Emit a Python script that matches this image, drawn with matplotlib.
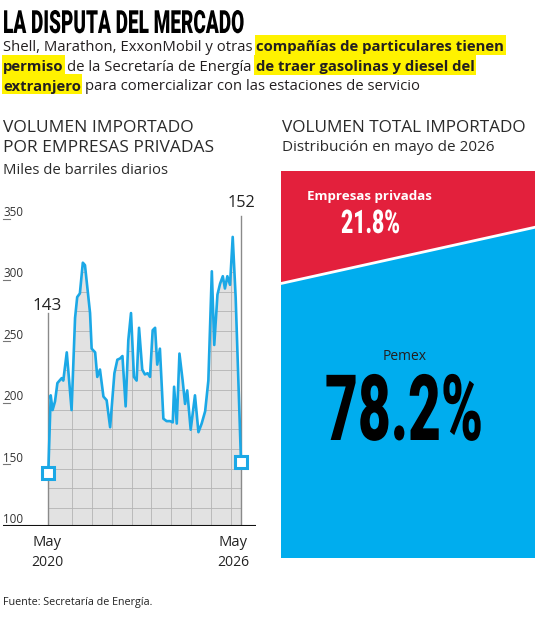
import matplotlib
matplotlib.use("Agg")
import matplotlib.pyplot as plt
import matplotlib.patheffects as pe
from matplotlib.transforms import Affine2D
from matplotlib.patches import Rectangle, Polygon

# ---------------- data ----------------
title = "LA DISPUTA DEL MERCADO"
subtitle_lines = [
    [("Shell, Marathon, ExxonMobil y otras", False), ("compañías de particulares tienen", True)],
    [("permiso", True), ("de la Secretaría de Energía", False), ("de traer gasolinas y diesel del", True)],
    [("extranjero", True), ("para comercializar con las estaciones de servicio", False)],
]
left_title = ["VOLUMEN IMPORTADO", "POR EMPRESAS PRIVADAS"]
left_unit = "Miles de barriles diarios"
right_title = "VOLUMEN TOTAL IMPORTADO"
right_sub = "Distribución en mayo de 2026"
source = "Fuente: Secretaría de Energía."

# months elapsed since May 2020 and imported volume (thousand barrels per day)
months = [0, 0.9, 1.6, 2.5, 3.4, 5.0, 5.6, 6.9, 8.7, 10.0, 10.8, 11.8, 12.9, 13.7,
          15.6, 16.2, 17.5, 18.3, 19.3, 20.6, 21.8, 23.1, 24.7, 25.8, 26.8, 27.7,
          28.9, 29.9, 30.9, 32.0, 33.0, 33.9, 35.1, 36.1, 37.1, 38.0, 39.0, 39.9,
          40.7, 41.7, 43.0, 44.2, 45.5, 46.5, 47.0, 48.0, 49.0, 50.2, 51.1, 51.9,
          53.2, 54.8, 56.1, 57.3, 58.6, 59.8, 61.1, 62.0, 63.2, 64.2, 65.2, 66.0,
          66.9, 67.9, 68.9, 70.0, 72.0]
volume = [143, 206, 194, 201, 216, 220, 218, 241, 194, 269, 286, 289, 314, 312,
          273, 244, 241, 221, 227, 205, 202, 180, 224, 235, 236, 238,
          197, 251, 273, 221, 218, 261, 227, 223, 224, 221, 259, 261,
          231, 244, 187, 185, 185, 184, 213, 183, 240, 218, 199, 210,
          178, 206, 176, 183, 193, 218, 307, 247, 288, 297, 303, 293,
          303, 296, 335, 286, 152]
y_ticks = [100, 150, 200, 250, 300, 350]
x_tick_months = [0, 72]
x_tick_labels = [("May", "2020"), ("May", "2026")]
start_label = "143"
end_label = "152"
share_labels = ["Empresas privadas", "Pemex"]
share_values = [21.8, 78.2]

# ---------------- setup ----------------
W, H = 538, 620
fig = plt.figure(figsize=(W / 100, H / 100), dpi=100)
fig.patch.set_facecolor("white")
bg = fig.add_axes([0, 0, 1, 1])
bg.set_xlim(0, W)
bg.set_ylim(H, 0)
bg.axis("off")
bg.set_zorder(10)
renderer = fig.canvas.get_renderer()

SANS = ["Open Sans", "DejaVu Sans"]
HEAVY = ["Roboto", "DejaVu Sans"]
INK = "#231f20"
BLUE = "#1ba8e6"
RED = "#e3203c"
PANEL_BLUE = "#00adee"
YELLOW = "#fff200"


class Squeeze(pe.AbstractPathEffect):
    """Compress glyphs horizontally about x0 (display px)."""
    def __init__(self, sx, x0):
        super().__init__((0, 0))
        self.sx = sx
        self.x0 = x0

    def draw_path(self, renderer, gc, tpath, affine, rgbFace=None):
        t = affine + Affine2D().translate(-self.x0, 0).scale(self.sx, 1).translate(self.x0, 0)
        renderer.draw_path(gc, tpath, t, rgbFace)


def width_of(t):
    return t.get_window_extent(renderer).width


def squeezed(x, y, s, size, target_w, ha="center", **kw):
    t = bg.text(x, y, s, fontsize=size, ha=ha, va="baseline", **kw)
    w = width_of(t)
    x0 = bg.transData.transform((x, y))[0]
    t.set_path_effects([Squeeze(target_w / w, x0)])
    return t


def fitted(x, y, s, target_w, ha="left", **kw):
    kw.setdefault("family", SANS)
    kw.setdefault("color", INK)
    t = bg.text(x, y, s, fontsize=10, ha=ha, va="baseline", **kw)
    w = width_of(t)
    t.set_fontsize(10 * target_w / w)
    return t


def measure(s, size, weight):
    t = bg.text(0, 0, s, fontsize=size, fontweight=weight, family=SANS)
    w = width_of(t)
    t.remove()
    return w


# ---------------- title & subtitle ----------------
squeezed(3, 33, title, 23, 242, ha="left", family=HEAVY, fontweight="black", color="black")

line_targets = [502, 475, 415]
line_base = [51, 71, 90.5]
sizes = []
for runs, tw in zip(subtitle_lines, line_targets):
    tot = 0
    for i, (s, b) in enumerate(runs):
        wt = "bold" if b else "normal"
        tot += measure(s, 10, wt)
        if i > 0:
            tot += measure("a a", 10, wt) - measure("aa", 10, wt)
    sizes.append(10 * tw / tot)
sub_size = sum(sizes) / len(sizes)

for runs, yb in zip(subtitle_lines, line_base):
    x = 3
    for i, (s, b) in enumerate(runs):
        wt = "bold" if b else "normal"
        if i > 0:
            x += measure("a a", sub_size, wt) - measure("aa", sub_size, wt)
        t = bg.text(x, yb, s, fontsize=sub_size, fontweight=wt, family=SANS,
                    color=INK, ha="left", va="baseline", zorder=3)
        w = width_of(t)
        if b:
            bg.add_patch(Rectangle((x - 1.5, yb - 16.5), w + 3, 20, facecolor=YELLOW,
                                   edgecolor="none", zorder=1))
        x += w

# ---------------- section headers ----------------
fitted(3, 132.5, left_title[0], 190, color="#2a2a2a")
fitted(3, 152, left_title[1], 211, color="#2a2a2a")
fitted(3, 174, left_unit, 165, color="#2a2a2a")
fitted(282, 131.5, right_title, 245, color="#2a2a2a")
fitted(282, 151, right_sub, 212, color="#2a2a2a")

# ---------------- line chart ----------------
px_per_unit = 61.4 / 50
base_px, top_px = 525.5, 193
left_px, right_px = 3, 256
m0_px, px_per_month = 48.3, (241 - 48.3) / 72

ax = fig.add_axes([left_px / W, 1 - base_px / H, (right_px - left_px) / W, (base_px - top_px) / H])
ax.set_xlim((left_px - m0_px) / px_per_month, (right_px - m0_px) / px_per_month)
ax.set_ylim(100, 100 + (base_px - top_px) / px_per_unit)
ax.axis("off")

ax.fill_between(months, volume, 100, color="#e2e2e2", lw=0, zorder=1)
clip_poly = Polygon(list(zip(months, volume)) + [(months[-1], 100), (months[0], 100)],
                    closed=True, facecolor="none", edgecolor="none", transform=ax.transData)
ax.add_patch(clip_poly)
for k in range(9):
    gx = 8.9 + 7.4 * k
    ln, = ax.plot([gx, gx], [100, 400], color="#b4b4b4", lw=0.6, zorder=2)
    ln.set_clip_path(clip_poly)
for k in range(15):
    gy = 114.3 + 16 * k
    ln, = ax.plot([-20, 80], [gy, gy], color="#b4b4b4", lw=0.6, zorder=2)
    ln.set_clip_path(clip_poly)

ax.plot([months[0]] * 2, [100, 273], color="#8a8a8a", lw=1.0, zorder=3)
ax.plot([months[-1]] * 2, [100, 352], color="#8a8a8a", lw=1.0, zorder=3)
ax.plot(months, volume, color=BLUE, lw=1.9, solid_joinstyle="round", zorder=4)
ax.plot([months[0], months[-1]], [volume[0], volume[-1]], "s", ms=8, mfc="white",
        mec=BLUE, mew=2.2, zorder=5, clip_on=False)
ax.axhline(100, color="#111111", lw=1.5, zorder=6)

fitted(47.5, 310, start_label, 29, ha="center", color="#222222")
fitted(241, 207, end_label, 28, ha="center", color="#222222")

for v in y_ticks:
    ypx = base_px - (v - 100) * px_per_unit
    fitted(3, ypx - 2.5, str(v), 20, color="#333333")
    if v > 100:
        bg.plot([3, 10], [ypx, ypx], color="#777777", lw=0.8)

label_px = [47.5, 233]
for (l1, l2), xp in zip(x_tick_labels, label_px):
    fitted(xp, 546.5, l1, 29, ha="center", color="#222222")
    fitted(xp, 566.5, l2, 32, ha="center", color="#222222")

fitted(3, 605, source, 149, color="#222222")

# ---------------- share panel ----------------
pax = fig.add_axes([281 / W, 1 - 558 / H, 254 / W, 387 / H])
pax.set_xlim(0, 1)
pax.set_ylim(0, 1)
pax.axis("off")
share = share_values[0] / 100
a, b = share * 4 / 3, share * 2 / 3
pax.add_patch(Polygon([(0, 1), (1, 1), (1, 1 - b), (0, 1 - a)], closed=True,
                      facecolor=RED, edgecolor="none"))
pax.add_patch(Polygon([(0, 0), (1, 0), (1, 1 - b), (0, 1 - a)], closed=True,
                      facecolor=PANEL_BLUE, edgecolor="none"))
pax.plot([0, 1], [1 - a, 1 - b], color="white", lw=2.0)

fitted(369.5, 200, share_labels[0], 125, ha="center", color="white", fontweight="bold")
squeezed(370.5, 233, f"{share_values[0]:.1f}%", 23.5, 59, family=HEAVY, fontweight="black", color="white")
fitted(405, 360, share_labels[1], 44, ha="center", color=INK)
squeezed(404, 440, f"{share_values[1]:.1f}%", 66, 158, family=HEAVY, fontweight="black", color="black")

fig.savefig("out.png", dpi=100, facecolor="white")
